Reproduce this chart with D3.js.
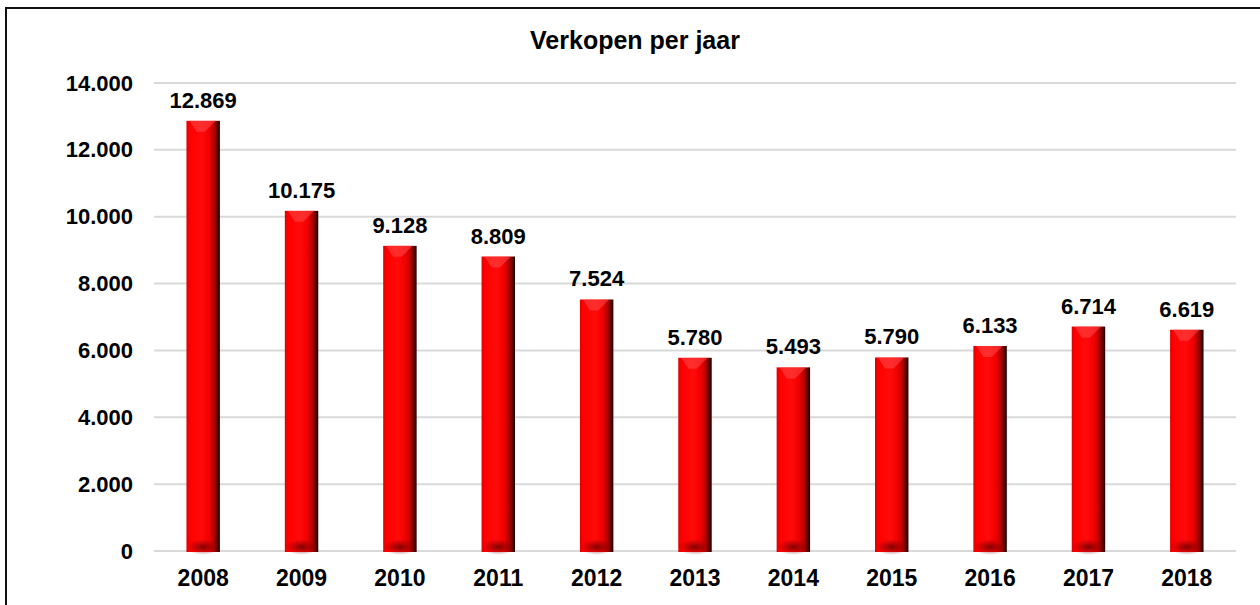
<!DOCTYPE html>
<html>
<head>
<meta charset="utf-8">
<script src="https://cdn.jsdelivr.net/npm/d3@7"></script>
<style>
  body { margin: 0; background: white; }
  svg text { font-family: "Liberation Sans", Arial, sans-serif; font-weight: bold; fill: #000; }
</style>
</head>
<body>
<svg id="chart" width="1260" height="605"></svg>
<script>
const years = ["2008", "2009", "2010", "2011", "2012", "2013", "2014", "2015", "2016", "2017", "2018"];
const sales = [12869, 10175, 9128, 8809, 7524, 5780, 5493, 5790, 6133, 6714, 6619];
const yTicks = [0, 2000, 4000, 6000, 8000, 10000, 12000, 14000];
const title = "Verkopen per jaar";

const svg = d3.select("#chart");
const fmt = d => d3.format(",")(d).replace(/,/g, ".");

// outer frame, only left and top visible
svg.append("rect")
	.attr("x", 6).attr("y", 8)
	.attr("width", 1400).attr("height", 800)
	.attr("fill", "white")
	.attr("stroke", "#111")
	.attr("stroke-width", 2);

const plotLeft = 154, plotRight = 1236, plotTop = 83, plotBottom = 551;

const x = d3.scaleBand().domain(years).range([plotLeft, plotRight]).paddingInner(0.66).paddingOuter(0.33);
const y = d3.scaleLinear().domain([0, 14000]).range([plotBottom, plotTop]);

// bar gradient
const defs = svg.append("defs");
const grad = defs.append("linearGradient").attr("id", "barGrad").attr("x1", "0").attr("x2", "1").attr("y1", "0").attr("y2", "0");
[["0%", "#e00000"], ["10%", "#ff0000"], ["45%", "#ff0a0a"], ["68%", "#f00000"], ["84%", "#a80000"], ["100%", "#1a0000"]]
	.forEach(s => grad.append("stop").attr("offset", s[0]).attr("stop-color", s[1]));
const shade = defs.append("radialGradient").attr("id", "baseGrad");
shade.append("stop").attr("offset", "0%").attr("stop-color", "#600000").attr("stop-opacity", 0.8);
shade.append("stop").attr("offset", "100%").attr("stop-color", "#900000").attr("stop-opacity", 0);

// gridlines
svg.append("g")
	.selectAll("line")
	.data(yTicks)
	.join("line")
	.attr("x1", plotLeft).attr("x2", plotRight)
	.attr("y1", d => y(d)).attr("y2", d => y(d))
	.attr("stroke", "#d9d9d9")
	.attr("stroke-width", 2);

// y axis labels
const yAxis = svg.append("g")
	.attr("transform", `translate(${plotLeft - 21},0)`)
	.call(d3.axisLeft(y).tickValues(yTicks).tickFormat(fmt).tickSize(0).tickPadding(0));
yAxis.select(".domain").remove();
yAxis.selectAll("text").attr("font-size", 22).attr("font-family", null);

// x axis labels
const xAxis = svg.append("g")
	.attr("transform", `translate(0,${plotBottom})`)
	.call(d3.axisBottom(x).tickSize(0).tickPadding(19));
xAxis.select(".domain").remove();
xAxis.selectAll("text").attr("font-size", 23).attr("font-family", null);

// bars
const bars = svg.append("g")
	.selectAll("g")
	.data(years.map((yr, i) => ({ yr, v: sales[i] })))
	.join("g");

bars.append("rect")
	.attr("x", d => x(d.yr))
	.attr("y", d => y(d.v))
	.attr("width", x.bandwidth())
	.attr("height", d => plotBottom - y(d.v) + 1)
	.attr("fill", "url(#barGrad)");

// top bevel highlight
bars.append("path")
	.attr("d", d => {
		const x0 = x(d.yr), w = x.bandwidth(), t = y(d.v);
		return `M${x0 + 3},${t} L${x0 + w - 4},${t} L${x0 + w * 0.55},${t + 11} L${x0 + w * 0.3},${t + 11} Z`;
	})
	.attr("fill", "#ff5050")
	.attr("opacity", 0.5);

// base shadow
bars.append("ellipse")
	.attr("cx", d => x(d.yr) + x.bandwidth() / 2)
	.attr("cy", plotBottom - 4)
	.attr("rx", x.bandwidth() / 2)
	.attr("ry", 8)
	.attr("fill", "url(#baseGrad)");

// value labels
bars.append("text")
	.attr("x", d => x(d.yr) + x.bandwidth() / 2)
	.attr("y", d => y(d.v) - 13)
	.attr("text-anchor", "middle")
	.attr("font-size", 22)
	.text(d => fmt(d.v));

svg.append("text")
	.attr("x", 635)
	.attr("y", 49)
	.attr("text-anchor", "middle")
	.attr("font-size", 25)
	.text(title);
</script>
</body>
</html>
